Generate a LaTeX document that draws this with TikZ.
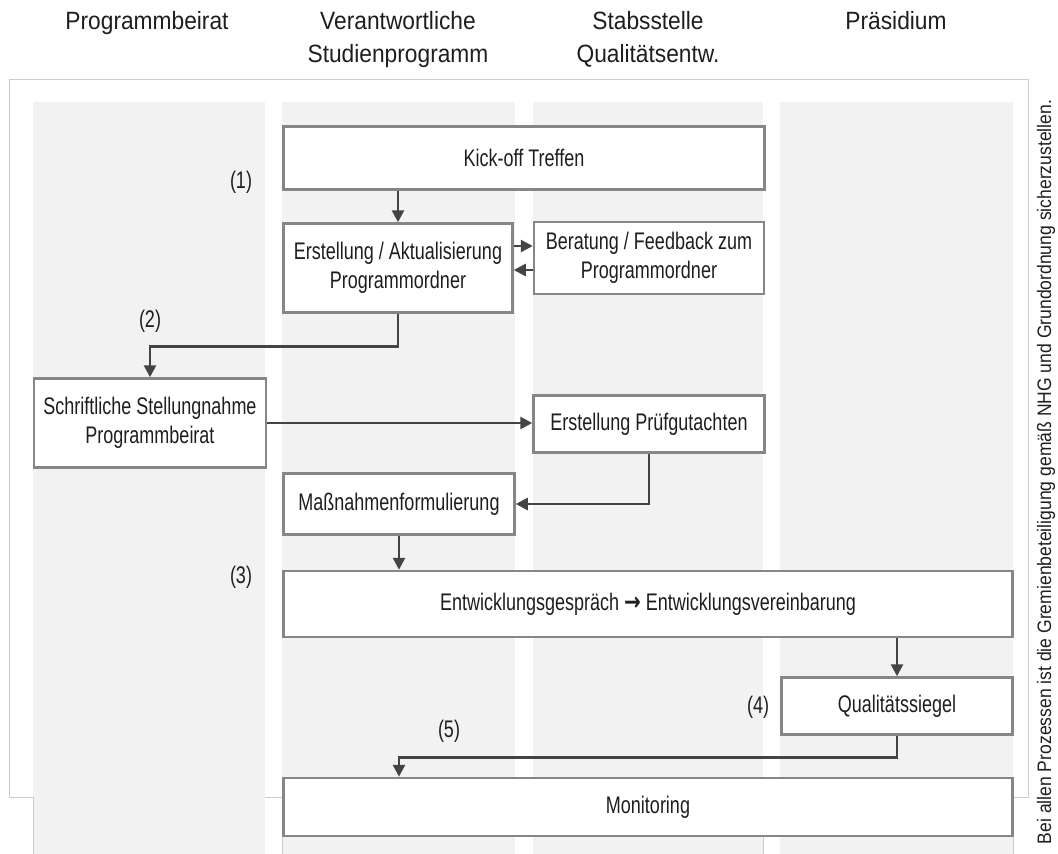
\documentclass[tikz,border=0pt]{standalone}
\usepackage{fontspec}
\setmainfont{Liberation Sans}[FakeStretch=0.75]
\newfontfamily\headfont{Liberation Sans}[FakeStretch=0.91]
\newfontfamily\notefont{Liberation Sans}[FakeStretch=0.9]
\newfontfamily\arrowfont{DejaVu Sans}[FakeStretch=0.8]
\usetikzlibrary{
    arrows.meta,
    positioning,
    calc
}
\definecolor{lanegray}{HTML}{F2F2F2}
\definecolor{framegray}{HTML}{CCCCCC}
\definecolor{boxgray}{HTML}{868686}
\definecolor{arrowgray}{HTML}{444444}
\definecolor{textgray}{HTML}{1E1E1E}

\begin{document}
\begin{tikzpicture}[
    x=1pt, y=-1pt,
    >={Triangle[length=12pt,width=12pt]},
    box/.style={
        rectangle,
        draw=boxgray,
        line width=2.5pt,
        fill=white,
        align=center,
        inner sep=0pt,
        text=textgray,
        font=\fontsize{24}{29}\selectfont
    },
    head/.style={
        anchor=north,
        align=center,
        inner sep=0pt,
        text=textgray,
        font=\headfont\fontsize{25}{33}\selectfont
    },
    num/.style={text=textgray, font=\fontsize{24}{29}\selectfont},
    line/.style={draw=arrowgray, ->, line width=2.6pt}
]
\useasboundingbox (0,0) rectangle (1058,854);

% frame and lanes
\draw[framegray, line width=1pt] (9,79) rectangle (1028,797);
\foreach \x/\w in {33/232, 282/233, 533/230, 780/233}
    \fill[lanegray] (\x,102) rectangle ++(\w,752);
\foreach \x in {33, 282, 763, 1013}
    \draw[framegray, line width=1pt] (\x,797) -- (\x,854);

% lane titles
\node[head] (hbeirat) at (147,11) {Programmbeirat};
\node[head] (hverant) at (398,11) {Verantwortliche\\Studienprogramm};
\node[head] (hstab) at (648,11) {Stabsstelle\\Qualitätsentw.};
\node[head] (hpraes) at (896,11) {Präsidium};

% process steps
\node[box, minimum width=481, minimum height=63] (kick) at (524,158) {Kick-off Treffen};
\node[box, minimum width=229, minimum height=89] (erst) at (398,268) {Erstellung / Aktualisierung\\Programmordner};
\node[box, minimum width=230, minimum height=72] (berat) at (649,258) {Beratung / Feedback zum\\Programmordner};
\node[box, minimum width=232, minimum height=89] (schrift) at (150,423) {Schriftliche Stellungnahme\\Programmbeirat};
\node[box, minimum width=231, minimum height=57] (pruef) at (649,424) {Erstellung Prüfgutachten};
\node[box, minimum width=231, minimum height=61] (massn) at (399,504) {Maßnahmenformulierung};
\node[box, minimum width=729, minimum height=66] (entw) at (648,604) {Entwicklungsgespräch {\arrowfont\bfseries\fontsize{25}{25}\selectfont →} Entwicklungsvereinbarung};
\node[box, minimum width=231, minimum height=57] (quali) at (897,706) {Qualitätssiegel};
\node[box, minimum width=729, minimum height=58] (monit) at (648,807) {Monitoring};

% phase numbers
\node[num] (n1) at (241,182) {(1)};
\node[num] (n2) at (150,321) {(2)};
\node[num] (n3) at (241,577) {(3)};
\node[num] (n4) at (758,707) {(4)};
\node[num] (n5) at (449,731) {(5)};

% note
\node[rotate=90, text=textgray, font=\notefont\fontsize{19.5}{22}\selectfont] (note) at (1046,472)
    {Bei allen Prozessen ist die Gremienbeteiligung gemäß NHG und Grundordnung sicherzustellen.};

% connectors
\draw[line] (kick.south -| erst.north) -- (erst.north);
\draw[line] ([yshift=12pt]berat.west -| erst.east) -- ([yshift=12pt]berat.west);
\draw[line] ([yshift=-12pt]berat.west) -- ([yshift=-12pt]berat.west -| erst.east);
\draw[line] (erst.south) -- ++(0,33) -| (schrift.north);
\draw[line] (schrift.east) -- (schrift.east -| pruef.west);
\draw[line] (pruef.south) |- (massn.east);
\draw[line] (massn.south) -- (massn.south |- entw.north);
\draw[line] (entw.south -| quali.north) -- (quali.north);
\draw[line] (quali.south) -- ++(0,22) -| (monit.north -| massn.south);

\end{tikzpicture}
\end{document}
